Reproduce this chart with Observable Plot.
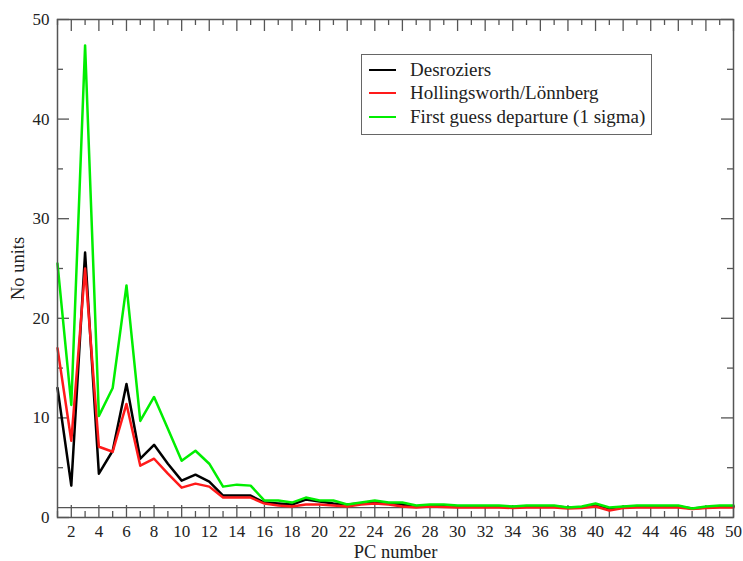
<!DOCTYPE html>
<html>
<head>
<meta charset="utf-8">
<script src="https://cdn.jsdelivr.net/npm/d3@7"></script>
<script src="https://cdn.jsdelivr.net/npm/@observablehq/plot@0.6"></script>
<style>
  html, body { margin: 0; padding: 0; background: #fff; }
  #wrap { position: relative; width: 743px; height: 561px; }
  .legend {
    position: absolute; left: 361px; top: 54px; width: 289px; height: 79px;
    border: 1px solid #666; background: #fff;
    font-family: "Liberation Serif", serif; font-size: 19px; color: #222;
    box-sizing: content-box;
  }
  .legend .row { position: absolute; left: 7px; height: 22px; display: flex; align-items: center; white-space: nowrap; }
  .legend .swatch { width: 27px; height: 2.5px; margin-right: 14px; }
  svg g[aria-label="x-axis label"] text, svg g[aria-label="y-axis label"] text { font-size: 18.5px; }
</style>
</head>
<body>
<div id="wrap"></div>
<script>
// Principal component index along the x axis
const pcNumber = d3.range(1, 51);

// Desroziers estimate
const desroziers = [
  13.0, 3.2, 26.6, 4.4, 6.7, 13.4, 5.9, 7.3, 5.4, 3.7,
  4.3, 3.6, 2.2, 2.2, 2.2, 1.5, 1.4, 1.3, 1.8, 1.6,
  1.4, 1.3, 1.4, 1.6, 1.4, 1.3, 1.1, 1.2, 1.2, 1.1,
  1.1, 1.1, 1.1, 1.05, 1.1, 1.1, 1.1, 1.0, 1.0, 1.3,
  0.9, 1.05, 1.1, 1.1, 1.1, 1.1, 0.9, 1.0, 1.1, 1.1
];

// Hollingsworth/Lönnberg estimate
const hollingsworth = [
  17.0, 7.7, 25.0, 7.1, 6.6, 11.4, 5.2, 5.9, 4.4, 3.0,
  3.4, 3.1, 2.0, 2.0, 2.0, 1.4, 1.2, 1.1, 1.3, 1.3,
  1.2, 1.1, 1.3, 1.4, 1.3, 1.1, 1.0, 1.1, 1.05, 1.0,
  1.0, 1.0, 1.0, 0.95, 1.0, 1.0, 1.0, 0.9, 0.95, 1.1,
  0.7, 0.95, 1.0, 1.0, 1.0, 1.0, 0.85, 0.95, 1.0, 1.0
];

// First guess departure standard deviation
const firstGuess = [
  25.5, 11.3, 47.4, 10.2, 13.0, 23.3, 9.7, 12.1, 8.9, 5.7,
  6.7, 5.4, 3.1, 3.3, 3.2, 1.7, 1.7, 1.5, 2.0, 1.7,
  1.7, 1.3, 1.5, 1.7, 1.5, 1.5, 1.2, 1.3, 1.3, 1.2,
  1.2, 1.2, 1.2, 1.1, 1.2, 1.2, 1.2, 1.0, 1.1, 1.4,
  1.0, 1.1, 1.2, 1.2, 1.2, 1.2, 0.9, 1.1, 1.2, 1.2
];

const seriesNames = ["Desroziers", "Hollingsworth/Lönnberg", "First guess departure (1 sigma)"];
const seriesColors = ["#000000", "#ff1a1a", "#00ee00"];

// Axis ticks
const xMajorTicks = [2, 4, 6, 8, 10, 12, 14, 16, 18, 20, 22, 24, 26, 28, 30, 32, 34, 36, 38, 40, 42, 44, 46, 48, 50];
const xMinorTicks = [1, 3, 5, 7, 9, 11, 13, 15, 17, 19, 21, 23, 25, 27, 29, 31, 33, 35, 37, 39, 41, 43, 45, 47, 49];
const yMajorTicks = [0, 10, 20, 30, 40, 50];
const yMinorTicks = [5, 15, 25, 35, 45];
const referenceLevel = [1];

const series = [desroziers, hollingsworth, firstGuess];
const rows = series.flatMap((vals, s) =>
  vals.map((v, i) => ({pc: pcNumber[i], value: v, name: seriesNames[s]}))
);

const W = 743, H = 561;
const M = {top: 19, right: 10, bottom: 44, left: 57};
const innerW = W - M.left - M.right;
const innerH = H - M.top - M.bottom;
const major = 12, minor = 6;
const axisColor = "#555";

const chart = Plot.plot({
  width: W,
  height: H,
  marginTop: M.top,
  marginRight: M.right,
  marginBottom: M.bottom,
  marginLeft: M.left,
  style: {fontFamily: "Liberation Serif, serif", fontSize: "17px", color: "#222", background: "#fff"},
  x: {domain: [1, 50]},
  y: {domain: [0, 50]},
  color: {domain: seriesNames, range: seriesColors},
  marks: [
    Plot.ruleY(referenceLevel, {stroke: axisColor, strokeWidth: 1.2}),
    // inward ticks on all four sides
    Plot.tickX(xMajorTicks, {x: d => d, insetTop: innerH - major, stroke: axisColor, strokeWidth: 1.3}),
    Plot.tickX(xMinorTicks, {x: d => d, insetTop: innerH - minor, stroke: axisColor, strokeWidth: 1.3}),
    Plot.tickX(xMajorTicks, {x: d => d, insetBottom: innerH - major, stroke: axisColor, strokeWidth: 1.3}),
    Plot.tickX(xMinorTicks, {x: d => d, insetBottom: innerH - minor, stroke: axisColor, strokeWidth: 1.3}),
    Plot.tickY(yMajorTicks, {y: d => d, insetRight: innerW - major, stroke: axisColor, strokeWidth: 1.3}),
    Plot.tickY(yMinorTicks, {y: d => d, insetRight: innerW - minor, stroke: axisColor, strokeWidth: 1.3}),
    Plot.tickY(yMajorTicks, {y: d => d, insetLeft: innerW - major, stroke: axisColor, strokeWidth: 1.3}),
    Plot.tickY(yMinorTicks, {y: d => d, insetLeft: innerW - minor, stroke: axisColor, strokeWidth: 1.3}),
    Plot.lineY(rows, {x: "pc", y: "value", z: "name", stroke: "name", strokeWidth: 2.5, curve: "linear"}),
    Plot.frame({stroke: axisColor, strokeWidth: 1.5}),
    Plot.axisX({ticks: xMajorTicks, tickSize: 0, tickPadding: 7, tickFormat: d => String(d),
      label: "PC number", labelAnchor: "center", labelArrow: "none", labelOffset: 40, fontSize: 17}),
    Plot.axisY({ticks: yMajorTicks, tickSize: 0, tickPadding: 8, tickFormat: d => String(d),
      label: "No units", labelAnchor: "center", labelArrow: "none", labelOffset: 47, fontSize: 17})
  ]
});

const wrap = document.getElementById("wrap");
wrap.appendChild(chart);

// Legend box inside the plot area
const legend = document.createElement("div");
legend.className = "legend";
const rowTops = [4, 27, 51];
seriesNames.forEach((name, i) => {
  const row = document.createElement("div");
  row.className = "row";
  row.style.top = rowTops[i] + "px";
  const sw = document.createElement("span");
  sw.className = "swatch";
  sw.style.background = seriesColors[i];
  const label = document.createElement("span");
  label.textContent = name;
  row.appendChild(sw);
  row.appendChild(label);
  legend.appendChild(row);
});
wrap.appendChild(legend);
</script>
</body>
</html>
